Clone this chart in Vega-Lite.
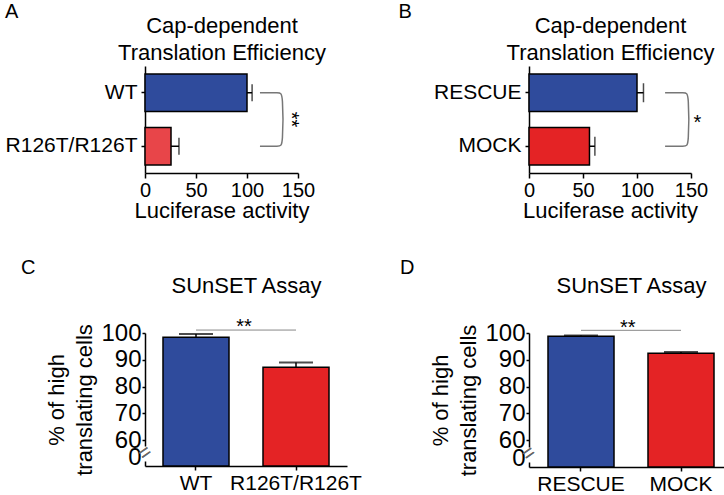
{
  "$schema": "https://vega.github.io/schema/vega-lite/v6.json",
  "padding": {"left": 5, "top": 2, "right": 0, "bottom": 0},
  "config": {
    "font": "Liberation Sans",
    "view": {"stroke": null},
    "axis": {"domainColor": "black", "tickColor": "black", "labelColor": "black", "titleColor": "black", "grid": false, "titleFontWeight": "normal", "domainWidth": 1.5, "tickWidth": 1.5, "labelFlush": false, "labelOverlap": false},
    "title": {"fontWeight": "normal", "fontSize": 20, "anchor": "start", "frame": "bounds", "color": "black"}
  },
  "columns": 1,
  "align": "none",
  "spacing": 37,
  "resolve": {"scale": {"color": "independent"}},
  "concat": [
    {
      "spacing": 72,
      "resolve": {"scale": {"color": "independent"}},
      "hconcat": [
        {
          "title": {"text": "A", "offset": -8},
          "width": 153,
          "height": 107,
          "data": {"values": [{"g": "WT", "v": 100, "hi": 105}, {"g": "R126T/R126T", "v": 25.5, "hi": 33.3}]},
          "resolve": {"axis": {"x": "independent"}},
          "layer": [
            {
              "mark": {"type": "bar", "stroke": "black", "strokeWidth": 1.5},
              "encoding": {
                "y": {"field": "g", "type": "nominal", "sort": null, "scale": {"domain": ["WT", "R126T/R126T"], "paddingInner": 0.3, "paddingOuter": 0.15}, "axis": {"title": null, "labelFontSize": 21, "tickSize": 4, "labelPadding": 4}},
                "x": {"field": "v", "type": "quantitative", "scale": {"domain": [0, 150], "nice": false}, "axis": {"values": [0, 50, 100, 150], "title": "Luciferase activity", "titleFontSize": 22, "labelFontSize": 20, "tickSize": 5, "labelPadding": 2, "titlePadding": 0, "labelOverlap": false}},
                "color": {"field": "g", "type": "nominal", "scale": {"domain": ["WT", "R126T/R126T"], "range": ["#2f4b9c", "#e84549"]}, "legend": null}
              }
            },
            {
              "mark": {"type": "rule", "color": "black", "strokeWidth": 1.5},
              "encoding": {
                "y": {"field": "g", "type": "nominal"},
                "x": {"field": "v", "type": "quantitative", "axis": {"orient": "top", "title": ["Cap-dependent", "Translation Efficiency"], "labels": false, "ticks": false, "domain": false, "titleFontSize": 22, "titleLineHeight": 27, "titlePadding": 2}},
                "x2": {"field": "hi"}
              }
            },
            {
              "mark": {"type": "tick", "color": "black", "thickness": 1.5, "size": 17},
              "encoding": {
                "y": {"field": "g", "type": "nominal"},
                "x": {"field": "hi", "type": "quantitative", "axis": null}
              }
            },
            {
              "data": {"values": [{"k": 1, "g": "WT", "x": 112.7}, {"k": 2, "g": "WT", "x": 132}, {"k": 3, "g": "WT", "x": 135.3}, {"k": 4, "g": "R126T/R126T", "x": 135.3}, {"k": 5, "g": "R126T/R126T", "x": 132}, {"k": 6, "g": "R126T/R126T", "x": 112.7}]},
              "mark": {"type": "line", "color": "#777777", "strokeWidth": 1.5, "interpolate": "basis"},
              "encoding": {
                "y": {"field": "g", "type": "nominal"},
                "x": {"field": "x", "type": "quantitative", "axis": null},
                "order": {"field": "k"}
              }
            },
            {
              "data": {"values": [{"g": "WT", "x": 143, "s": "**"}]},
              "mark": {"type": "text", "angle": 90, "fontSize": 20, "color": "black"},
              "encoding": {
                "y": {"field": "g", "type": "nominal", "bandPosition": 1.215},
                "x": {"field": "x", "type": "quantitative", "axis": null},
                "text": {"field": "s"}
              }
            }
          ]
        },
        {
          "title": {"text": "B", "offset": -8, "dx": -35},
          "width": 162,
          "height": 107,
          "data": {"values": [{"g": "RESCUE", "v": 100, "hi": 106}, {"g": "MOCK", "v": 56, "hi": 61}]},
          "resolve": {"axis": {"x": "independent"}},
          "layer": [
            {
              "mark": {"type": "bar", "stroke": "black", "strokeWidth": 1.5},
              "encoding": {
                "y": {"field": "g", "type": "nominal", "sort": null, "scale": {"domain": ["RESCUE", "MOCK"], "paddingInner": 0.3, "paddingOuter": 0.15}, "axis": {"title": null, "labelFontSize": 21, "tickSize": 4, "labelPadding": 4}},
                "x": {"field": "v", "type": "quantitative", "scale": {"domain": [0, 150], "nice": false}, "axis": {"values": [0, 50, 100, 150], "title": "Luciferase activity", "titleFontSize": 22, "labelFontSize": 20, "tickSize": 5, "labelPadding": 2, "titlePadding": 0, "labelOverlap": false}},
                "color": {"field": "g", "type": "nominal", "scale": {"domain": ["RESCUE", "MOCK"], "range": ["#2f4b9c", "#e42325"]}, "legend": null}
              }
            },
            {
              "mark": {"type": "rule", "color": "black", "strokeWidth": 1.5},
              "encoding": {
                "y": {"field": "g", "type": "nominal"},
                "x": {"field": "v", "type": "quantitative", "axis": {"orient": "top", "title": ["Cap-dependent", "Translation Efficiency"], "labels": false, "ticks": false, "domain": false, "titleFontSize": 22, "titleLineHeight": 27, "titlePadding": 2}},
                "x2": {"field": "hi"}
              }
            },
            {
              "mark": {"type": "tick", "color": "black", "thickness": 1.5, "size": 19},
              "encoding": {
                "y": {"field": "g", "type": "nominal"},
                "x": {"field": "hi", "type": "quantitative", "axis": null}
              }
            },
            {
              "data": {"values": [{"k": 1, "g": "RESCUE", "x": 126}, {"k": 2, "g": "RESCUE", "x": 145}, {"k": 3, "g": "RESCUE", "x": 148}, {"k": 4, "g": "MOCK", "x": 148}, {"k": 5, "g": "MOCK", "x": 145}, {"k": 6, "g": "MOCK", "x": 126}]},
              "mark": {"type": "line", "color": "#777777", "strokeWidth": 1.5, "interpolate": "basis"},
              "encoding": {
                "y": {"field": "g", "type": "nominal"},
                "x": {"field": "x", "type": "quantitative", "axis": null},
                "order": {"field": "k"}
              }
            },
            {
              "data": {"values": [{"g": "RESCUE", "x": 156, "s": "*"}]},
              "mark": {"type": "text", "fontSize": 20, "color": "black"},
              "encoding": {
                "y": {"field": "g", "type": "nominal", "bandPosition": 1.3},
                "x": {"field": "x", "type": "quantitative", "axis": null},
                "text": {"field": "s"}
              }
            }
          ]
        }
      ]
    },
    {
      "spacing": 37,
      "resolve": {"scale": {"color": "independent"}},
      "hconcat": [
        {
          "title": {"text": "C", "offset": -4, "dx": -25},
          "width": 202,
          "height": 133,
          "data": {"values": [{"g": "WT", "v": 98.4, "hi": 99.6}, {"g": "R126T/R126T", "v": 87.2, "hi": 89}]},
          "resolve": {"axis": {"x": "independent", "y": "independent"}},
          "layer": [
            {
              "mark": {"type": "bar", "stroke": "black", "strokeWidth": 1.5},
              "encoding": {
                "x": {"field": "g", "type": "nominal", "sort": null, "scale": {"domain": ["WT", "R126T/R126T"], "paddingInner": 0.34, "paddingOuter": 0.18}, "axis": {"title": null, "labelAngle": 0, "labelFontSize": 21, "tickSize": 4, "labelPadding": 2}},
                "y": {"field": "v", "type": "quantitative", "scale": {"domain": [0, 60, 100], "range": [133, 107, 0], "nice": false, "zero": false}, "axis": {"values": [0, 60, 70, 80, 90, 100], "labelOverlap": false, "labelFontSize": 24, "tickSize": 3, "labelPadding": 1, "title": ["% of high", "translating cells"], "titleFontSize": 22, "titleLineHeight": 28, "titlePadding": 4, "domainDash": [5, 15, 300], "labelOffset": {"condition": {"test": "datum.value === 0", "value": -9}, "value": 0}, "tickOpacity": {"condition": {"test": "datum.value === 0", "value": 0}, "value": 1}}},
                "color": {"field": "g", "type": "nominal", "scale": {"domain": ["WT", "R126T/R126T"], "range": ["#2f4b9c", "#e42325"]}, "legend": null}
              }
            },
            {
              "mark": {"type": "rule", "color": "black", "strokeWidth": 1.5},
              "encoding": {
                "x": {"field": "g", "type": "nominal", "axis": {"orient": "top", "title": "SUnSET Assay", "labels": false, "ticks": false, "domain": false, "titleFontSize": 22, "titlePadding": 36}},
                "y": {"field": "v", "type": "quantitative", "axis": null},
                "y2": {"field": "hi"}
              }
            },
            {
              "mark": {"type": "tick", "color": "black", "thickness": 2, "size": 34},
              "encoding": {
                "x": {"field": "g", "type": "nominal", "axis": null},
                "y": {"field": "hi", "type": "quantitative", "axis": null}
              }
            },
            {
              "data": {"values": [{"a": "WT", "b": "R126T/R126T", "y": 101.1}]},
              "mark": {"type": "rule", "color": "#888888", "strokeWidth": 1},
              "encoding": {
                "x": {"field": "a", "type": "nominal", "axis": null},
                "x2": {"field": "b"},
                "y": {"field": "y", "type": "quantitative", "axis": null}
              }
            },
            {
              "data": {"values": [{"g": "WT", "y": 102.4, "s": "**"}]},
              "mark": {"type": "text", "fontSize": 20, "color": "black"},
              "encoding": {
                "x": {"field": "g", "type": "nominal", "bandPosition": 1.227, "axis": null},
                "y": {"field": "y", "type": "quantitative", "axis": null},
                "text": {"field": "s"}
              }
            },
            {
              "mark": {"type": "text", "fontSize": 20, "angle": -35, "color": "#666666", "text": "="},
              "encoding": {
                "x": {"datum": "WT", "type": "nominal", "bandPosition": -0.27, "axis": null},
                "y": {"datum": 30, "type": "quantitative", "axis": null}
              }
            }
          ]
        },
        {
          "title": {"text": "D", "offset": -4, "dx": -30},
          "width": 204,
          "height": 134,
          "data": {"values": [{"g": "RESCUE", "v": 98.8, "hi": 99.1}, {"g": "MOCK", "v": 92.4, "hi": 92.9}]},
          "resolve": {"axis": {"x": "independent", "y": "independent"}},
          "layer": [
            {
              "mark": {"type": "bar", "stroke": "black", "strokeWidth": 1.5},
              "encoding": {
                "x": {"field": "g", "type": "nominal", "sort": null, "scale": {"domain": ["RESCUE", "MOCK"], "paddingInner": 0.34, "paddingOuter": 0.19}, "axis": {"title": null, "labelAngle": 0, "labelFontSize": 21, "tickSize": 4, "labelPadding": 2}},
                "y": {"field": "v", "type": "quantitative", "scale": {"domain": [0, 60, 100], "range": [134, 107, 0], "nice": false, "zero": false}, "axis": {"values": [0, 60, 70, 80, 90, 100], "labelOverlap": false, "labelFontSize": 24, "tickSize": 3, "labelPadding": 1, "title": ["% of high", "translating cells"], "titleFontSize": 22, "titleLineHeight": 28, "titlePadding": 4, "domainDash": [5, 15, 300], "labelOffset": {"condition": {"test": "datum.value === 0", "value": -9}, "value": 0}, "tickOpacity": {"condition": {"test": "datum.value === 0", "value": 0}, "value": 1}}},
                "color": {"field": "g", "type": "nominal", "scale": {"domain": ["RESCUE", "MOCK"], "range": ["#2f4b9c", "#e42325"]}, "legend": null}
              }
            },
            {
              "mark": {"type": "rule", "color": "black", "strokeWidth": 1.5},
              "encoding": {
                "x": {"field": "g", "type": "nominal", "axis": {"orient": "top", "title": "SUnSET Assay", "labels": false, "ticks": false, "domain": false, "titleFontSize": 22, "titlePadding": 36}},
                "y": {"field": "v", "type": "quantitative", "axis": null},
                "y2": {"field": "hi"}
              }
            },
            {
              "mark": {"type": "tick", "color": "black", "thickness": 2, "size": 34},
              "encoding": {
                "x": {"field": "g", "type": "nominal", "axis": null},
                "y": {"field": "hi", "type": "quantitative", "axis": null}
              }
            },
            {
              "data": {"values": [{"a": "RESCUE", "b": "MOCK", "y": 101.0}]},
              "mark": {"type": "rule", "color": "#888888", "strokeWidth": 1},
              "encoding": {
                "x": {"field": "a", "type": "nominal", "axis": null},
                "x2": {"field": "b"},
                "y": {"field": "y", "type": "quantitative", "axis": null}
              }
            },
            {
              "data": {"values": [{"g": "RESCUE", "y": 101.9, "s": "**"}]},
              "mark": {"type": "text", "fontSize": 20, "color": "black"},
              "encoding": {
                "x": {"field": "g", "type": "nominal", "bandPosition": 1.21, "axis": null},
                "y": {"field": "y", "type": "quantitative", "axis": null},
                "text": {"field": "s"}
              }
            },
            {
              "mark": {"type": "text", "fontSize": 20, "angle": -35, "color": "#666666", "text": "="},
              "encoding": {
                "x": {"datum": "RESCUE", "type": "nominal", "bandPosition": -0.29, "axis": null},
                "y": {"datum": 30, "type": "quantitative", "axis": null}
              }
            }
          ]
        }
      ]
    }
  ]
}
